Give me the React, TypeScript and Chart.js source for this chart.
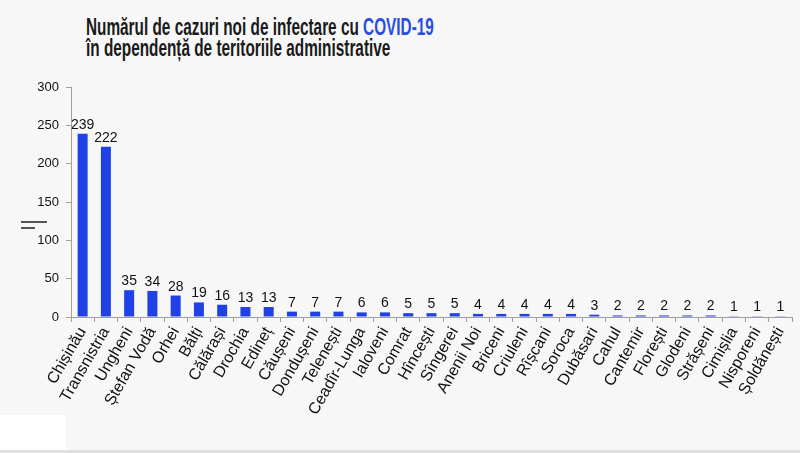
import React, { useEffect, useRef } from "react";
import { Chart, registerables } from "chart.js";

Chart.register(...registerables);

const categories = [
  "Chișinău", "Transnistria", "Ungheni", "Ștefan Vodă", "Orhei", "Bălți", "Călărași",
  "Drochia", "Edineț", "Căușeni", "Dondușeni", "Telenești", "Ceadîr-Lunga", "Ialoveni",
  "Comrat", "Hîncești", "Sîngerei", "Anenii Noi", "Briceni", "Criuleni", "Rîșcani",
  "Soroca", "Dubăsari", "Cahul", "Cantemir", "Florești", "Glodeni", "Strășeni",
  "Cimișlia", "Nisporeni", "Șoldănești",
];
const cases = [
  239, 222, 35, 34, 28, 19, 16, 13, 13, 7, 7, 7, 6, 6, 5, 5, 5, 4, 4, 4, 4, 4, 3, 2, 2, 2, 2, 2, 1, 1, 1,
];
const yTicks = [0, 50, 100, 150, 200, 250, 300];

const FONT = "'Liberation Sans', Arial, sans-serif";
const BAR_COLOR = "#1f41e6";

const valueLabels = {
  id: "valueLabels",
  afterDatasetsDraw(chart: any) {
    const ctx = chart.ctx;
    const meta = chart.getDatasetMeta(0);
    ctx.save();
    ctx.font = `14px ${FONT}`;
    ctx.fillStyle = "#111";
    ctx.textAlign = "center";
    ctx.textBaseline = "alphabetic";
    meta.data.forEach((bar: any, i: number) => {
      ctx.fillText(String(cases[i]), bar.x, bar.y - 5);
    });
    ctx.restore();
  },
};

export default function App() {
  const ref = useRef<HTMLCanvasElement | null>(null);

  useEffect(() => {
    if (!ref.current) return;
    const chart = new Chart(ref.current, {
      type: "bar",
      data: {
        labels: categories,
        datasets: [
          {
            data: cases,
            backgroundColor: BAR_COLOR,
            borderWidth: 0,
            barPercentage: 0.43,
            categoryPercentage: 1,
          },
        ],
      },
      options: {
        responsive: false,
        animation: false,
        layout: { padding: { top: 87, right: 8, left: 0, bottom: 0 } },
        plugins: {
          legend: { display: false },
          tooltip: { enabled: false },
          title: { display: false },
        },
        scales: {
          x: {
            offset: true,
            grid: {
              display: true,
              drawOnChartArea: false,
              drawTicks: true,
              tickLength: 5,
              color: "#a0a0a0",
              offset: true,
            },
            border: { display: true, color: "#a0a0a0" },
            ticks: {
              autoSkip: false,
              minRotation: 60,
              maxRotation: 60,
              padding: 2,
              color: "#111",
              font: { family: FONT, size: 16 },
            },
            afterFit: (s: any) => {
              s.height = 136;
            },
          },
          y: {
            min: yTicks[0],
            max: yTicks[yTicks.length - 1],
            grid: {
              display: true,
              drawOnChartArea: false,
              drawTicks: true,
              tickLength: 5,
              color: "#a0a0a0",
            },
            border: { display: true, color: "#a0a0a0" },
            afterBuildTicks: (s: any) => {
              s.ticks = yTicks.map((v) => ({ value: v }));
            },
            ticks: {
              padding: 7,
              color: "#111",
              font: { family: FONT, size: 13 },
            },
            afterFit: (s: any) => {
              s.width = 71;
            },
          },
        },
      },
      plugins: [valueLabels],
    });
    return () => chart.destroy();
  }, []);

  return (
    <div
      style={{
        position: "fixed",
        left: 0,
        top: 0,
        width: 800,
        height: 453,
        background: "#f7f7f7",
        overflow: "hidden",
      }}
    >
      <div style={{ position: "absolute", left: 0, top: 415, width: 66, height: 35, background: "#ffffff" }} />
      <div style={{ position: "absolute", left: 0, top: 450, width: 800, height: 3, background: "#e0e0e0" }} />
      <div style={{ position: "absolute", left: 21, top: 221, width: 26, height: 2, background: "#555" }} />
      <div style={{ position: "absolute", left: 21, top: 227, width: 14, height: 2, background: "#555" }} />
      <div
        style={{
          position: "absolute",
          left: 86,
          top: 16.5,
          fontFamily: FONT,
          fontWeight: "bold",
          fontSize: 23,
          lineHeight: "21px",
          color: "#1a1a1a",
          whiteSpace: "nowrap",
          transform: "scaleX(0.667)",
          transformOrigin: "left top",
        }}
      >
        <div>
          Numărul de cazuri noi de infectare cu <span style={{ color: "#2a4ee0" }}>COVID-19</span>
        </div>
        <div>în dependență de teritoriile administrative</div>
      </div>
      <canvas ref={ref} width={800} height={453} style={{ position: "absolute", left: 0, top: 0 }} />
    </div>
  );
}
